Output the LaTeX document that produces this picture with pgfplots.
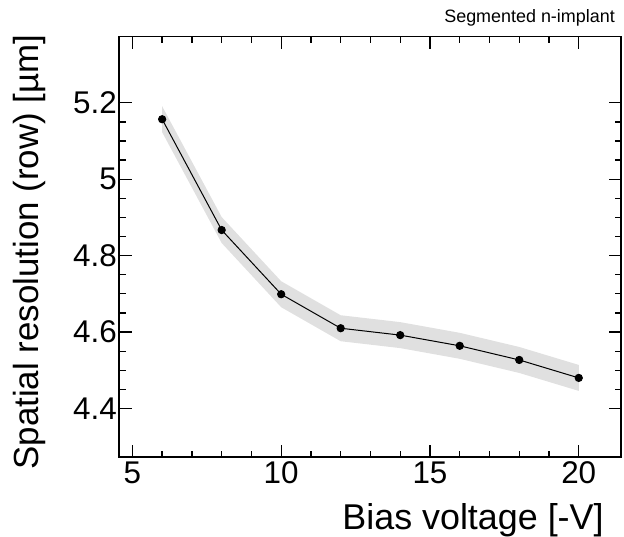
\documentclass[border=0pt]{standalone}
\usepackage{fontspec}
\setmainfont{Liberation Sans}
\usepackage{pgfplots}
\pgfplotsset{compat=1.18}
\begin{document}
\begin{tikzpicture}
\begin{axis}[
  scale only axis,
  width=501.7bp, height=420.3bp,
  xmin=4.56, xmax=21.42, ymin=4.273, ymax=5.373,
  xtick={5,10,15,20}, minor x tick num=4,
  ytick={4.4,4.6,4.8,5,5.2}, minor y tick num=3,
  tick align=inside, xtick pos=both, ytick pos=both,
  major tick length=12.5bp, minor tick length=6.5bp,
  axis line style={line width=1.6bp},
  every tick/.style={line width=1.3bp, black},
  /pgf/number format/assume math mode=true,
  tick label style={font=\fontsize{31.5}{31.5}\selectfont},
  xticklabel style={yshift=-1bp},
  yticklabel style={xshift=1bp},
  clip=true,
]
% error band (value +- 0.034)
\addplot[fill=black!12, draw=none] coordinates {
  (6,5.191) (8,4.901) (10,4.733) (12,4.644) (14,4.626) (16,4.598) (18,4.561) (20,4.514)
  (20,4.446) (18,4.493) (16,4.530) (14,4.558) (12,4.576) (10,4.665) (8,4.833) (6,5.123)
} -- cycle;
\addplot[black, line width=1bp, mark=*, mark size=3.6bp, mark options={fill=black}] coordinates {
  (6,5.157) (8,4.867) (10,4.699) (12,4.610) (14,4.592) (16,4.564) (18,4.527) (20,4.480)
};
\end{axis}
\node[anchor=base east, inner sep=0, font=\fontsize{36}{36}\selectfont] at (484.5bp,-72.3bp) {Bias voltage [-V]};
\node[anchor=base east, inner sep=0, rotate=90, font=\fontsize{35}{35}\selectfont] at (-80.8bp,422.5bp) {Spatial resolution (row) [µm]};
\node[anchor=base east, inner sep=0, font=\fontsize{18}{18}\selectfont] at (495.7bp,434.2bp) {Segmented n-implant};
\pgfresetboundingbox
\useasboundingbox (-119.3bp,-80bp) rectangle (504.7bp,457bp);
\end{tikzpicture}
\end{document}
